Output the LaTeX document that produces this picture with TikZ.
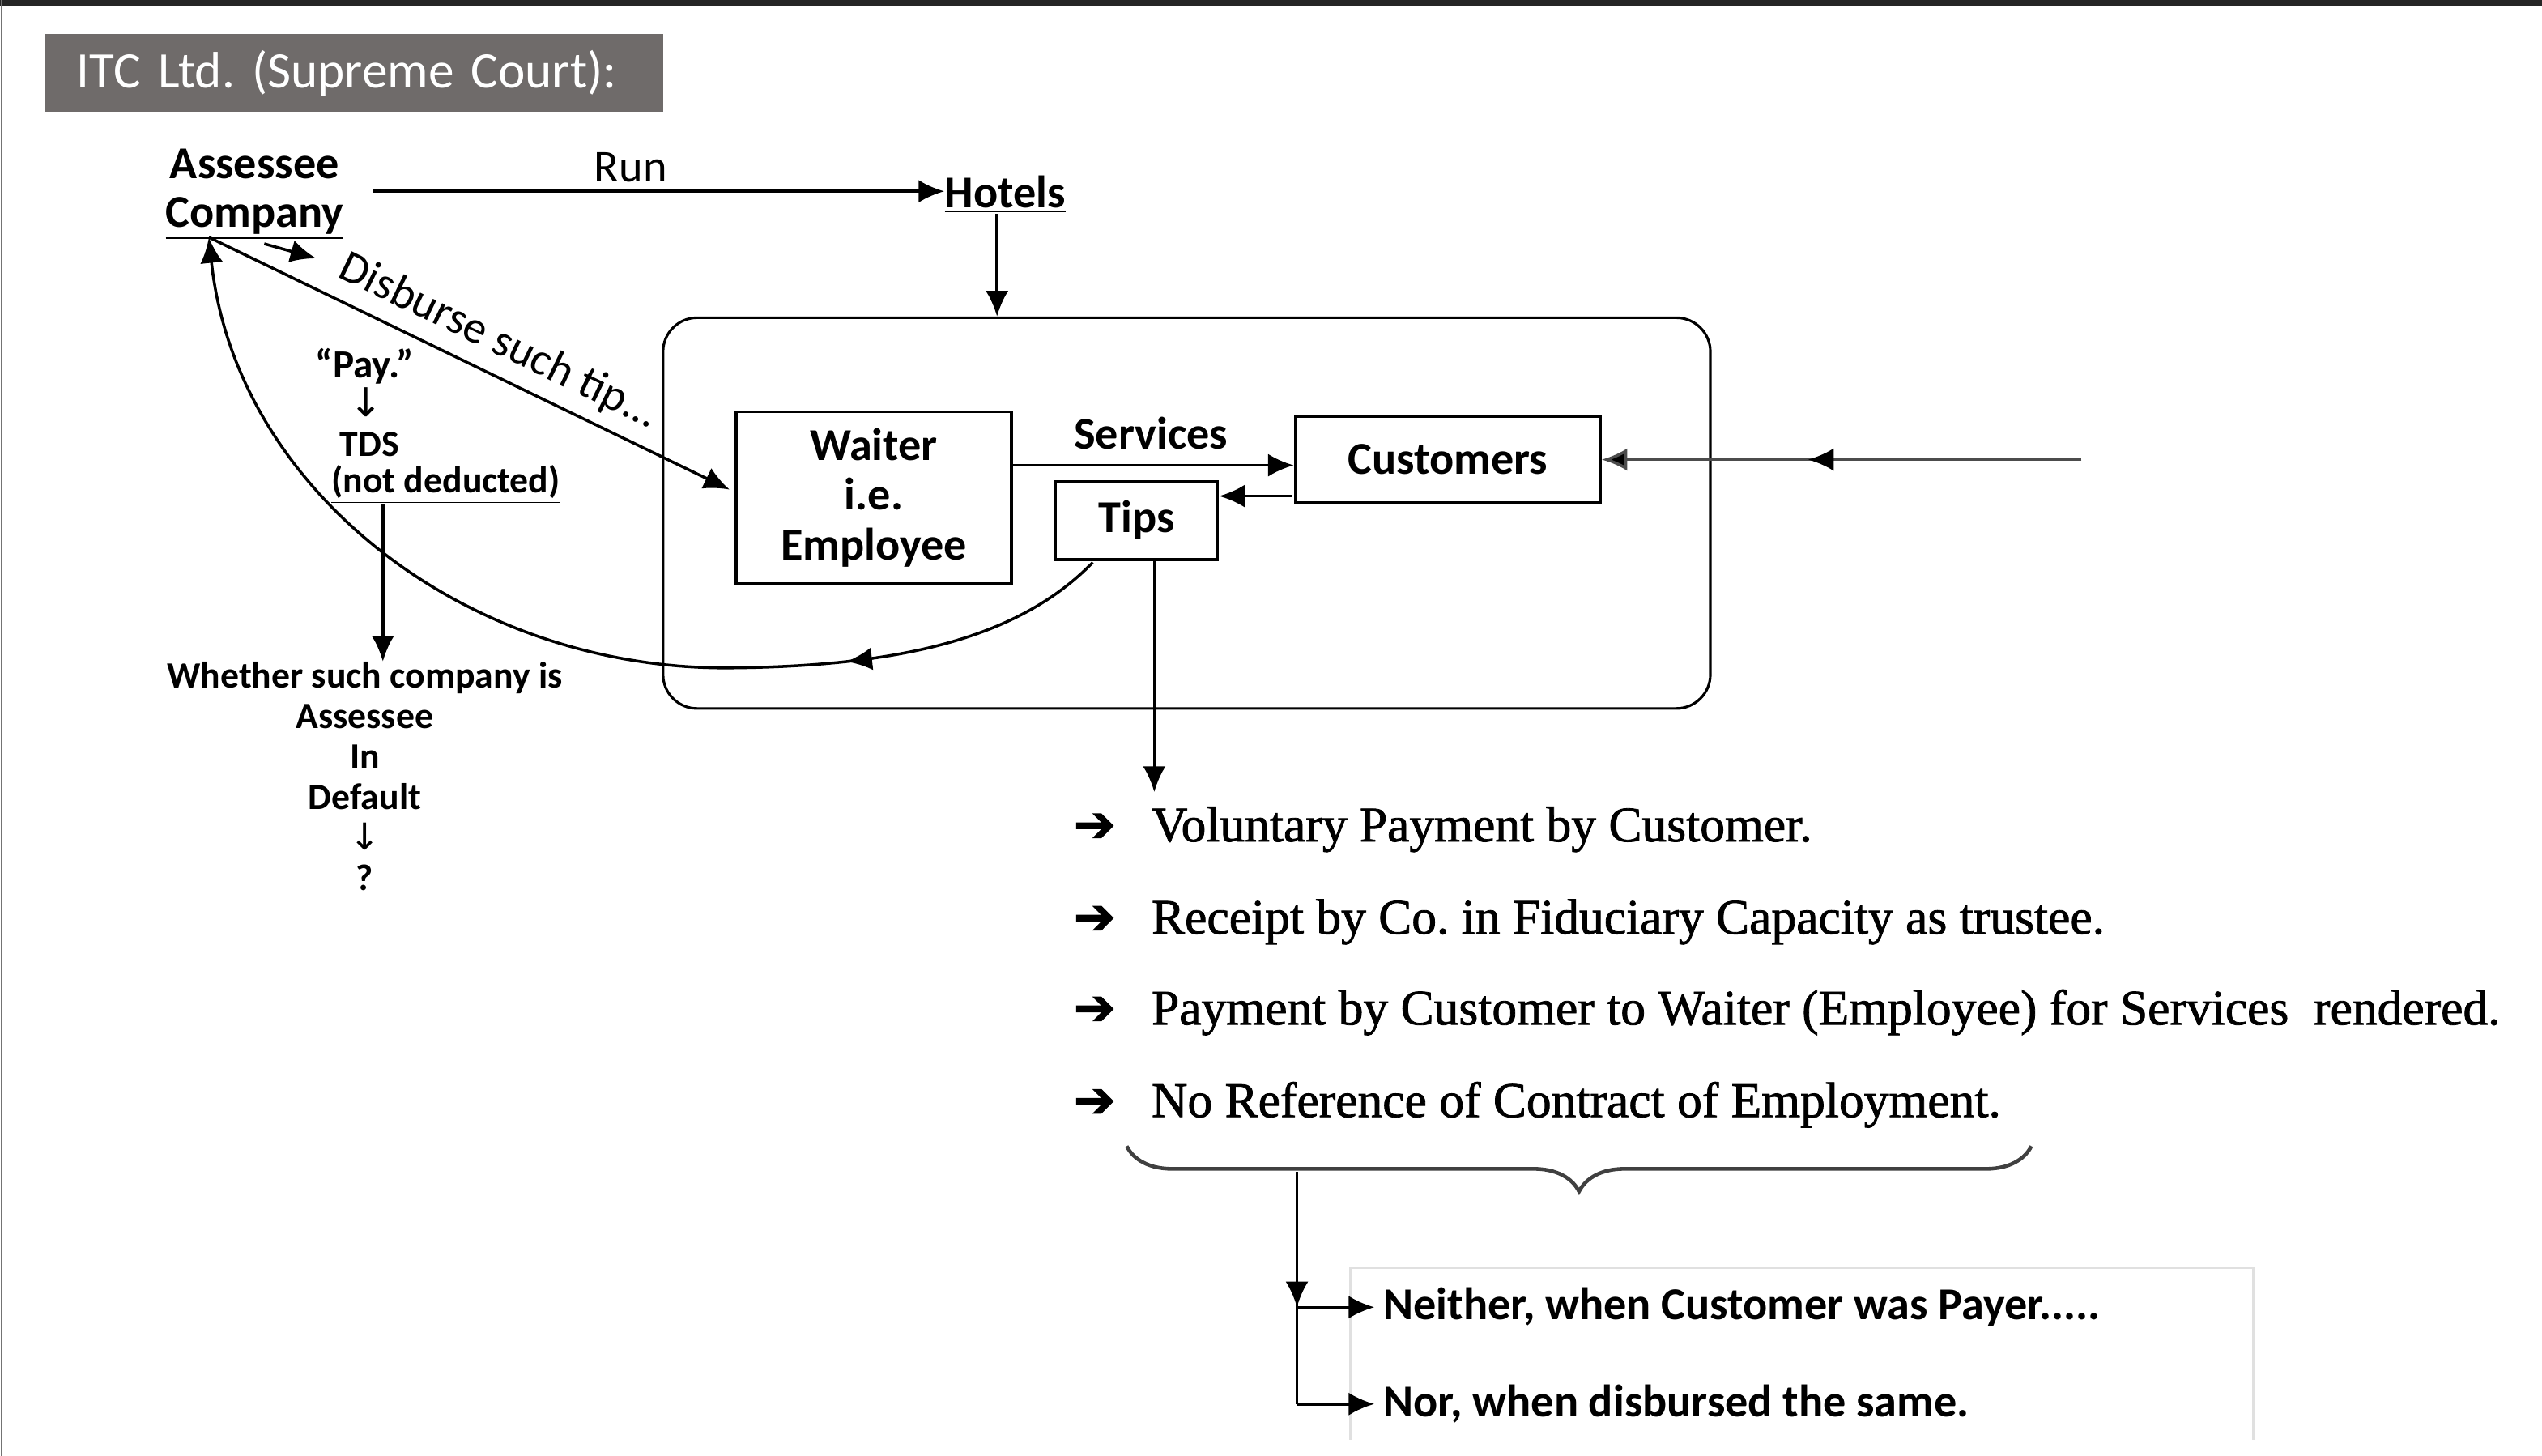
\documentclass[tikz,border=0pt]{standalone}
\usepackage{fontspec}
\setmainfont{Carlito}
\newfontfamily\bulletserif[FakeBold=1.3]{Liberation Serif}
\newfontfamily\symfont{DejaVu Sans}
\newfontfamily\heavysym[FakeBold=2]{DejaVu Sans}
\usetikzlibrary{arrows.meta,calc,decorations.pathreplacing,decorations.markings}
\definecolor{titlegray}{RGB}{111,107,106}
\newlength\uu
\setlength\uu{0.02002cm}
\newcommand\bul{\makebox[48\uu][l]{\heavysym ➔}}
\frenchspacing

\begin{document}
\begin{tikzpicture}[x=0.02002cm, y=-0.02002cm,
  boxnode/.style={draw, line width=1.1pt, align=center, inner sep=0pt,
    font=\bfseries\fontsize{16}{17.4}\selectfont},
  lbl/.style={inner sep=0pt, font=\bfseries\fontsize{16}{17}\selectfont},
  plain/.style={inner sep=0pt, font=\fontsize{16}{17}\selectfont},
  small/.style={inner sep=0pt, font=\bfseries\fontsize{13}{14}\selectfont},
  bullet/.style={anchor=base west, inner sep=0pt, font=\bulletserif\fontsize{17.5}{19}\selectfont},
  tip/.tip={Latex[length=9pt,width=8pt]},
  arr/.style={line width=1pt, -tip}]

\useasboundingbox (0,0) rectangle (1568,898);

% page edges
\fill[black!85] (0,0) rectangle (1568,4);
\draw[black!55, line width=0.8pt] (1,0) -- (1,898);

% heading
\node[fill=titlegray, text=white, anchor=west, align=left, inner xsep=0pt, inner ysep=0pt,
  minimum height=48*\uu, text width=382*\uu, font=\fontsize{18}{20}\selectfont]
  (title) at (27,45) {\hspace*{20\uu}ITC Ltd. (Supreme Court):};

% assessee company and hotels
\node[lbl, align=center] (ac) at (157,120) {Assessee\\\underline{Company}};
\node[plain] (run) at (389,103) {Run};
\node[lbl] (hotels) at (620,120) {\underline{Hotels}};
\coordinate (runstart) at ($(ac.east)+(18,-2)$);
\draw[arr] (runstart) -- (runstart -| hotels.west);

% hotel frame
\node[draw, line width=0.9pt, rounded corners=0.42cm, minimum width=646*\uu,
  minimum height=241*\uu] (hbox) at (732,316.5) {};
\coordinate (hdrop) at ($(hotels.south)+(-5,0)$);
\draw[arr] (hdrop) -- (hdrop |- hbox.north);

% parties inside the hotel
\node[boxnode, minimum width=170*\uu, minimum height=106*\uu] (waiter) at (539,307) {Waiter\\i.e.\\Employee};
\node[boxnode, minimum width=188*\uu, minimum height=53*\uu] (cust) at (893,283.5) {Customers};
\node[boxnode, minimum width=100*\uu, minimum height=48*\uu] (tips) at (701,321) {Tips};
\node[lbl] (services) at (710,267) {Services};

\coordinate (svc) at ($(waiter.east)+(0,-20)$);
\draw[arr] (svc) -- (svc -| cust.west);
\coordinate (tipin) at ($(cust.west)+(-1,22.5)$);
\draw[arr] (tipin) -- (tipin -| tips.east);

% customers arriving from outside
\coordinate (feed) at (1284,283.5);
\draw[line width=1pt, black!70, -{Latex[length=9pt,width=8pt,fill=black]}, postaction={decorate},
  decoration={markings, mark=at position 0.57 with {\arrow[black]{Latex[length=9pt,width=8pt]}}}]
  (feed) -- (cust.east);

% company disburses the tips to the waiter
\coordinate (cfoot) at ($(ac.south west)+(27,-2)$);
\draw[arr] (cfoot) -- ($(waiter.west)+(-3,-5)$)
  node[pos=0.53, sloped, above=4pt, plain] (disb) {Disburse such tip...};
\draw[arr] ($(ac.south)+(6,2)$) -- ++(32,9);

% TDS question
\node[inner sep=0pt, font=\bfseries\fontsize{14}{15}\selectfont] (pay) at (225,226) {“Pay.”};
\node[inner sep=0pt, font=\symfont\fontsize{14}{15}\selectfont] (paydown) at (226,248) {↓};
\node[small] (tds) at (228,274) {TDS};
\node[small] (notded) at (275,299) {\underline{(not deducted)}};
\node[small, anchor=north, align=center, font=\bfseries\fontsize{13}{14.2}\selectfont]
  (whether) at (225,408) {Whether such company is\\Assessee\\In\\Default\\{\symfont\mdseries ↓}\\?};
\coordinate (tdsfoot) at ($(notded.south west)+(32,0)$);
\draw[arr] (tdsfoot) -- (tdsfoot |- whether.north);

% tips collected by the company
\draw[line width=1pt, -tip, postaction={decorate},
  decoration={markings, mark=at position 0.24 with {\arrow{tip}}}]
  ($(tips.south west)+(24,1)$) .. controls (630,392) and (560,411) .. (450,412)
  .. controls (285,413) and (145,300) .. (cfoot);

% findings
\node[bullet] (b1) at (662,519) {\bul Voluntary Payment by Customer.};
\node[bullet] (b2) at (662,576) {\bul Receipt by Co. in Fiduciary Capacity as trustee.};
\node[bullet] (b3) at (662,632) {\bul Payment by Customer to Waiter (Employee) for Services\ \ rendered.};
\node[bullet] (b4) at (662,689) {\bul No Reference of Contract of Employment.};

\coordinate (tipsdrop) at ($(tips.south)+(11,0)$);
\draw[arr, shorten >=5pt] (tipsdrop) -- (tipsdrop |- b1.north);

% brace and conclusion
\draw[decorate, decoration={brace, mirror, amplitude=0.56cm}, line width=1.3pt, black!75]
  (695,707) -- (1253,707);
\draw[black!12, line width=1pt] (833,888) -- (833,782) -- (1390,782) -- (1390,888);

\node[lbl, anchor=base west] (neither) at (853,814) {Neither, when Customer was Payer.....};
\node[lbl, anchor=base west] (nor) at (853,874) {Nor, when disbursed the same.};

\coordinate (bracefoot) at (800,723);
\draw[line width=1pt] (bracefoot) -- (bracefoot |- nor.west);
\draw[arr] (bracefoot) -- (bracefoot |- neither.west);
\draw[arr] (bracefoot |- neither.west) -- ([xshift=-3pt]neither.west);
\draw[arr] (bracefoot |- nor.west) -- ([xshift=-3pt]nor.west);

\end{tikzpicture}
\end{document}
